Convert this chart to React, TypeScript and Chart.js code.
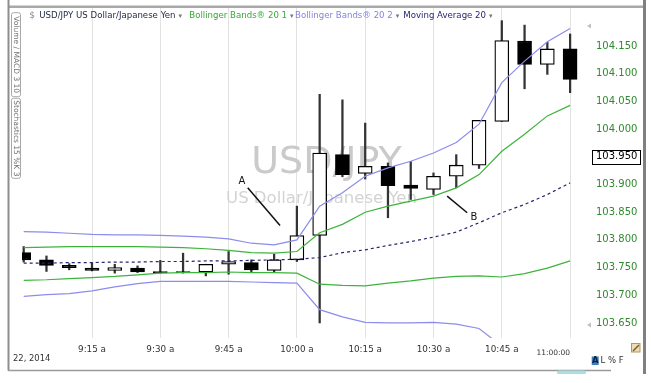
import React, { useEffect, useRef } from 'react';
import { Chart, registerables } from 'chart.js';

Chart.register(...registerables);

// minutes after 9:00
const minutes = [0, 5, 10, 15, 20, 25, 30, 35, 40, 45, 50, 55, 60, 65, 70, 75, 80, 85, 90, 95, 100, 105, 110, 115, 120];
const openP = [103.777, 103.764, 103.754, 103.749, 103.745, 103.749, 103.743, 103.743, 103.742, 103.756, 103.759, 103.745, 103.764, 103.808, 103.954, 103.920, 103.933, 103.899, 103.891, 103.915, 103.935, 104.014, 104.159, 104.117, 104.145];
const highP = [103.788, 103.771, 103.757, 103.759, 103.756, 103.753, 103.763, 103.776, 103.756, 103.779, 103.764, 103.774, 103.861, 104.063, 104.053, 104.011, 103.939, 103.942, 103.921, 103.954, 104.016, 104.196, 104.188, 104.157, 104.172];
const lowP = [103.760, 103.743, 103.746, 103.744, 103.740, 103.741, 103.740, 103.740, 103.735, 103.738, 103.742, 103.742, 103.761, 103.650, 103.914, 103.910, 103.840, 103.873, 103.882, 103.894, 103.929, 104.014, 104.073, 104.099, 104.066];
const closeP = [103.764, 103.754, 103.750, 103.745, 103.750, 103.742, 103.741, 103.741, 103.756, 103.761, 103.746, 103.764, 103.808, 103.957, 103.918, 103.933, 103.898, 103.893, 103.915, 103.935, 104.016, 104.160, 104.117, 104.145, 104.090];

const bb1Upper = [103.786, 103.787, 103.788, 103.788, 103.788, 103.788, 103.787, 103.786, 103.784, 103.781, 103.777, 103.776, 103.779, 103.813, 103.828, 103.850, 103.861, 103.870, 103.879, 103.894, 103.918, 103.960, 103.991, 104.024, 104.043];
const bb1Lower = [103.727, 103.728, 103.730, 103.732, 103.734, 103.737, 103.740, 103.741, 103.741, 103.742, 103.741, 103.741, 103.740, 103.720, 103.718, 103.717, 103.722, 103.726, 103.731, 103.734, 103.735, 103.733, 103.739, 103.749, 103.762];
const bb2Upper = [103.815, 103.814, 103.812, 103.810, 103.809, 103.809, 103.808, 103.807, 103.805, 103.802, 103.794, 103.791, 103.800, 103.861, 103.885, 103.915, 103.930, 103.942, 103.957, 103.976, 104.009, 104.084, 104.123, 104.158, 104.182];
const bb2Lower = [103.698, 103.701, 103.703, 103.708, 103.715, 103.721, 103.725, 103.725, 103.725, 103.725, 103.724, 103.723, 103.722, 103.674, 103.661, 103.651, 103.650, 103.650, 103.651, 103.648, 103.640, 103.608, 103.583, 103.561, 103.547];
const ma20 = [103.758, 103.758, 103.759, 103.759, 103.760, 103.760, 103.761, 103.761, 103.762, 103.762, 103.763, 103.764, 103.765, 103.768, 103.777, 103.782, 103.790, 103.797, 103.805, 103.814, 103.831, 103.849, 103.864, 103.882, 103.903];

const timeTicks = [15, 30, 45, 60, 75, 90, 105, 120];
const timeLabels = ['9:15 a', '9:30 a', '9:45 a', '10:00 a', '10:15 a', '10:30 a', '10:45 a', '11:00:00'];
const priceTicks = [103.65, 103.7, 103.75, 103.8, 103.85, 103.9, 103.95, 104.0, 104.05, 104.1, 104.15];
const lastPrice = 103.95;

const annotations = [
  { label: 'A', tx: 47.9, ty: 103.905, x1: 49.2, y1: 103.894, x2: 56.3, y2: 103.826 },
  { label: 'B', tx: 98.9, ty: 103.840, x1: 93.0, y1: 103.879, x2: 97.4, y2: 103.849 },
];

const legendItems = [
  { text: 'USD/JPY US Dollar/Japanese Yen', x: 39.3, color: '#1e2640' },
  { text: 'Bollinger Bands\u00ae 20 1', x: 189.3, color: '#35aa35' },
  { text: 'Bollinger Bands\u00ae 20 2', x: 295, color: '#8383e0' },
  { text: 'Moving Average 20', x: 403.3, color: '#1f1f72' },
];

const FONT = 'DejaVu Sans';

const decor = {
  id: 'decor',
  beforeDraw(chart: any) {
    const c = chart.ctx;
    c.save();
    c.fillStyle = '#ffffff';
    c.fillRect(0, 0, chart.width, chart.height);
    c.restore();
  },
  beforeDatasetsDraw(chart: any) {
    const c = chart.ctx;
    c.save();
    c.textAlign = 'center';
    c.textBaseline = 'alphabetic';
    c.fillStyle = '#cacaca';
    c.font = `38px "${FONT}"`;
    c.fillText('USD/JPY', 326.5, 173);
    c.fillStyle = '#d3d3d3';
    c.font = `16.5px "${FONT}"`;
    c.fillText('US Dollar/Japanese Yen', 321.5, 203.3);
    c.restore();
  },
  afterDraw(chart: any) {
    const c = chart.ctx;
    const xs = chart.scales.x;
    const ys = chart.scales.y;
    c.save();

    // annotations
    c.strokeStyle = '#111';
    c.lineWidth = 1.5;
    c.fillStyle = '#111';
    c.font = `10px "${FONT}"`;
    c.textAlign = 'center';
    c.textBaseline = 'middle';
    for (const a of annotations) {
      c.beginPath();
      c.moveTo(xs.getPixelForValue(a.x1), ys.getPixelForValue(a.y1));
      c.lineTo(xs.getPixelForValue(a.x2), ys.getPixelForValue(a.y2));
      c.stroke();
      c.fillText(a.label, xs.getPixelForValue(a.tx), ys.getPixelForValue(a.ty));
    }

    // legend
    c.textAlign = 'left';
    c.textBaseline = 'middle';
    c.font = `9px "${FONT}"`;
    c.fillStyle = '#8a8a8a';
    c.fillText('$', 29.3, 15.7);
    for (const it of legendItems) {
      c.font = `8.6px "${FONT}"`;
      c.fillStyle = it.color;
      c.fillText(it.text, it.x, 15.7);
      const w = c.measureText(it.text).width;
      c.font = `7px "${FONT}"`;
      c.fillStyle = '#777';
      c.fillText('\u25be', it.x + w + 3, 15.7);
    }

    // frame
    c.strokeStyle = '#a9a9a9';
    c.lineWidth = 2.4;
    c.beginPath();
    c.moveTo(8, 6.8);
    c.lineTo(644, 6.8);
    c.stroke();
    c.strokeStyle = '#8e8e8e';
    c.lineWidth = 2;
    c.beginPath();
    c.moveTo(8.5, 0);
    c.lineTo(8.5, 370.5);
    c.stroke();
    c.strokeStyle = '#808080';
    c.lineWidth = 3;
    c.beginPath();
    c.moveTo(644.5, 0);
    c.lineTo(644.5, 374);
    c.stroke();
    c.strokeStyle = '#9a9a9a';
    c.lineWidth = 1.5;
    c.beginPath();
    c.moveTo(8, 370.5);
    c.lineTo(611, 370.5);
    c.stroke();

    // scroll thumb
    c.fillStyle = '#a9dde2';
    c.beginPath();
    c.roundRect(557, 370.5, 29, 3.5, 1.5);
    c.fill();

    // left tabs
    const tabs = [
      { text: 'Volume / MACD 3 10', y0: 12.7, y1: 96.7 },
      { text: 'Stochastics 15 %K 3', y0: 98.3, y1: 178.3 },
    ];
    for (const t of tabs) {
      c.strokeStyle = '#a8a8a8';
      c.lineWidth = 1;
      c.beginPath();
      c.roundRect(11.5, t.y0, 9, t.y1 - t.y0, 2);
      c.stroke();
      c.save();
      c.translate(16, (t.y0 + t.y1) / 2);
      c.rotate(Math.PI / 2);
      c.fillStyle = '#707070';
      c.font = `7.5px "${FONT}"`;
      c.textAlign = 'center';
      c.textBaseline = 'middle';
      c.fillText(t.text, 0, 0);
      c.restore();
    }

    // small markers at right
    c.fillStyle = '#c0c0c0';
    for (const yy of [26, 325]) {
      c.beginPath();
      c.moveTo(587, yy);
      c.lineTo(591, yy - 2.5);
      c.lineTo(591, yy + 2.5);
      c.closePath();
      c.fill();
    }

    // boxed last price
    const py = ys.getPixelForValue(lastPrice);
    c.strokeStyle = '#000';
    c.lineWidth = 1;
    c.strokeRect(592.5, Math.round(py) - 6.5, 48, 14);

    // last time label (right aligned at its grid line)
    c.fillStyle = '#333';
    c.font = `7.5px "${FONT}"`;
    c.textAlign = 'right';
    c.textBaseline = 'middle';
    c.fillText(timeLabels[timeLabels.length - 1], xs.getPixelForValue(timeTicks[timeTicks.length - 1]), 352.6);

    // date
    c.textAlign = 'left';
    c.font = `8.4px "${FONT}"`;
    c.fillText('22, 2014', 13, 359.3);

    // A L % F
    c.fillStyle = '#3f7fbf';
    c.fillRect(591.7, 356.5, 7, 8.5);
    c.fillStyle = '#0d2340';
    c.font = `bold 8.5px "${FONT}"`;
    c.textAlign = 'center';
    c.fillText('A', 595.2, 361);
    c.fillStyle = '#333';
    c.font = `8.5px "${FONT}"`;
    c.textAlign = 'left';
    c.fillText('L % F', 600.5, 361);

    // pencil icon
    c.fillStyle = '#ecdcb4';
    c.fillRect(631, 343, 9, 9);
    c.strokeStyle = '#b89858';
    c.lineWidth = 1;
    c.strokeRect(631.5, 343.5, 8.5, 8.5);
    c.strokeStyle = '#7a5a2a';
    c.lineWidth = 1.5;
    c.beginPath();
    c.moveTo(633, 351);
    c.lineTo(639, 345);
    c.stroke();

    c.restore();
  },
};

export default function App() {
  const ref = useRef<HTMLCanvasElement>(null);

  useEffect(() => {
    const canvas = ref.current;
    if (!canvas) return;
    const pxPerMin = 68.3 / 15;
    const zeroPx = 23.7;
    const xMin = (22 - zeroPx) / pxPerMin;
    const xMax = (588 - zeroPx) / pxPerMin;

    const chart = new Chart(canvas, {
      type: 'bar',
      data: {
        datasets: [
          {
            type: 'line',
            data: minutes.map((m, i) => ({ x: m, y: bb2Upper[i] })),
            borderColor: '#8c8cec',
            borderWidth: 1.2,
            pointRadius: 0,
            tension: 0,
            order: 0,
          } as any,
          {
            type: 'line',
            data: minutes.map((m, i) => ({ x: m, y: bb2Lower[i] })),
            borderColor: '#8c8cec',
            borderWidth: 1.2,
            pointRadius: 0,
            tension: 0,
            order: 0,
          } as any,
          {
            type: 'line',
            data: minutes.map((m, i) => ({ x: m, y: bb1Upper[i] })),
            borderColor: '#3cb43c',
            borderWidth: 1.2,
            pointRadius: 0,
            tension: 0,
            order: 0,
          } as any,
          {
            type: 'line',
            data: minutes.map((m, i) => ({ x: m, y: bb1Lower[i] })),
            borderColor: '#3cb43c',
            borderWidth: 1.2,
            pointRadius: 0,
            tension: 0,
            order: 0,
          } as any,
          {
            type: 'line',
            data: minutes.map((m, i) => ({ x: m, y: ma20[i] })),
            borderColor: '#26266e',
            borderWidth: 1.2,
            borderDash: [3, 3],
            pointRadius: 0,
            tension: 0,
            order: 0,
          } as any,
          {
            type: 'bar',
            data: minutes.map((m, i) => ({ x: m, y: [openP[i], closeP[i]] })),
            backgroundColor: minutes.map((_, i) => (closeP[i] < openP[i] ? '#000000' : '#ffffff')),
            borderColor: '#000000',
            borderWidth: 1.3,
            borderSkipped: false,
            barThickness: 14,
            grouped: false,
            order: 1,
          } as any,
          {
            type: 'bar',
            data: minutes.map((m, i) => ({ x: m, y: [lowP[i], highP[i]] })),
            backgroundColor: '#333333',
            borderWidth: 0,
            barThickness: 1.6,
            grouped: false,
            order: 2,
          } as any,
        ],
      },
      options: {
        animation: false,
        responsive: false,
        maintainAspectRatio: false,
        layout: { padding: { left: 22, top: 7, right: 0, bottom: 0 } },
        plugins: {
          legend: { display: false },
          tooltip: { enabled: false },
          title: { display: false },
        },
        scales: {
          x: {
            type: 'linear',
            min: xMin,
            max: xMax,
            offset: false,
            grid: { color: '#e2e2e2', lineWidth: 1, drawTicks: false, offset: false },
            border: { display: false },
            afterBuildTicks: (s: any) => {
              s.ticks = timeTicks.map((v) => ({ value: v }));
            },
            afterFit: (s: any) => {
              s.height = 45;
              s.paddingLeft = 0;
              s.paddingRight = 0;
            },
            ticks: {
              autoSkip: false,
              maxRotation: 0,
              padding: 6,
              color: '#333333',
              font: { family: FONT, size: 8.8 },
              callback: (_v: any, i: number) => (i === timeTicks.length - 1 ? '' : timeLabels[i]),
            },
          },
          y: {
            type: 'linear',
            position: 'right',
            min: 103.6228,
            max: 104.2207,
            grid: { display: false, drawTicks: false },
            border: { display: false },
            afterBuildTicks: (s: any) => {
              s.ticks = priceTicks.map((v) => ({ value: v }));
            },
            afterFit: (s: any) => {
              s.width = 63;
              s.paddingTop = 0;
              s.paddingBottom = 0;
            },
            ticks: {
              autoSkip: false,
              padding: 8,
              font: { family: FONT, size: 10 },
              color: (ctx: any) => (Math.abs(ctx.tick.value - lastPrice) < 1e-6 ? '#000000' : '#2f8a2f'),
              callback: (v: any) => Number(v).toFixed(3),
            },
          },
        },
      } as any,
      plugins: [decor],
    });

    return () => chart.destroy();
  }, []);

  return (
    <div style={{ position: 'fixed', left: 0, top: 0, width: 651, height: 383, background: '#fff' }}>
      <canvas ref={ref} width={651} height={383} style={{ display: 'block', width: 651, height: 383 }} />
    </div>
  );
}
